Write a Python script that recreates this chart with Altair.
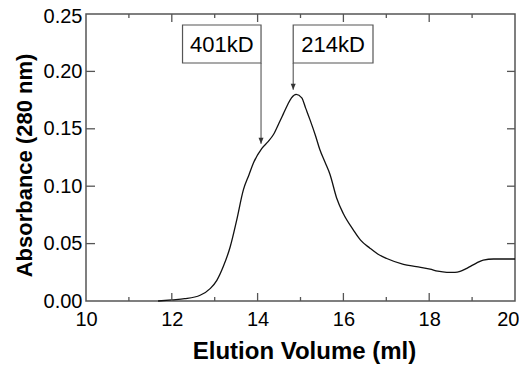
import altair as alt
import pandas as pd

# Chromatogram trace
volume = [11.68, 12.0, 12.3, 12.66, 12.9, 13.05, 13.2, 13.36, 13.51, 13.67, 13.8, 13.9,
          14.1, 14.25, 14.37, 14.5, 14.6, 14.7, 14.79, 14.9, 15.03, 15.12, 15.22, 15.35,
          15.45, 15.57, 15.69, 15.84, 16.0, 16.23, 16.4, 16.62, 16.8, 17.01, 17.4, 17.7,
          18.02, 18.2, 18.41, 18.6, 18.72, 18.85, 18.95, 19.1, 19.26, 19.5, 20.0]
absorbance = [0.000, 0.001, 0.002, 0.005, 0.011, 0.018, 0.030, 0.047, 0.070, 0.097, 0.110, 0.120,
              0.133, 0.139, 0.145, 0.155, 0.163, 0.171, 0.177, 0.180, 0.177, 0.168, 0.158, 0.144,
              0.132, 0.121, 0.110, 0.090, 0.076, 0.062, 0.053, 0.046, 0.041, 0.037, 0.032, 0.030,
              0.0278, 0.026, 0.025, 0.025, 0.0258, 0.028, 0.030, 0.033, 0.0357, 0.0366, 0.0366]

# Annotations
ann_labels = ["401kD", "214kD"]
ann_arrow_x = [14.08, 14.83]
ann_arrow_tip = [0.137, 0.184]
ann_box_x1 = [12.25, 14.83]
ann_box_x2 = [14.08, 16.69]
ann_box_top = [0.2404, 0.2404]
ann_box_bottom = [0.2073, 0.2073]

# Axis ticks
x_label_values = [10, 12, 14, 16, 18, 20]
x_major_ticks = [12, 14, 16, 18]
x_minor_ticks = [11, 13, 15, 17, 19]
y_label_values = [0.0, 0.05, 0.10, 0.15, 0.20, 0.25]
y_major_ticks = [0.05, 0.10, 0.15, 0.20]

W, H = 429, 287
FONT = "Liberation Sans"
GRAY = "#555555"

curve = pd.DataFrame({"v": volume, "a": absorbance})
ann = pd.DataFrame({
    "label": ann_labels, "ax": ann_arrow_x, "tip": ann_arrow_tip,
    "x1": ann_box_x1, "x2": ann_box_x2, "top": ann_box_top, "bottom": ann_box_bottom,
})
ann["cx"] = (ann["x1"] + ann["x2"]) / 2
ann["cy"] = (ann["top"] + ann["bottom"]) / 2

xs = alt.Scale(domain=[10, 20], nice=False, zero=False)
ys = alt.Scale(domain=[0, 0.25], nice=False)

x_axis = alt.Axis(values=x_label_values, format="d", ticks=False, tickSize=0, domain=False,
                  grid=False, labelFontSize=20, labelPadding=8, labelFont=FONT, labelColor="black",
                  labelFlush=False,
                  labelAlign={"condition": {"test": "datum.value == 20", "value": "right"}, "value": "center"},
                  labelOffset={"condition": {"test": "datum.value == 20", "value": 4}, "value": 0},
                  title="Elution Volume (ml)", titleFont=FONT, titleFontSize=24, titleFontWeight="bold",
                  titleColor="black", titleX=218, titleY=57, titleBaseline="alphabetic", titleAlign="center")
y_axis = alt.Axis(values=y_label_values, format=".2f", ticks=False, tickSize=0, domain=False,
                  grid=False, labelFontSize=20, labelPadding=4, labelFont=FONT, labelColor="black",
                  labelFlush=False,
                  labelOffset={"condition": {"test": "datum.value >= 0.249", "value": 2}, "value": 0},
                  title="Absorbance (280 nm)", titleFont=FONT, titleFontSize=22, titleFontWeight="bold",
                  titleColor="black", titleX=-55, titleY=151, titleAngle=-90,
                  titleBaseline="alphabetic", titleAlign="center")

line = alt.Chart(curve).mark_line(color="#111111", strokeWidth=1.3, interpolate="monotone").encode(
    x=alt.X("v:Q", scale=xs, axis=x_axis),
    y=alt.Y("a:Q", scale=ys, axis=y_axis),
)

xmaj = pd.DataFrame({"v": x_major_ticks})
xmin = pd.DataFrame({"v": x_minor_ticks})
ymaj = pd.DataFrame({"a": y_major_ticks})

def xticks(df, y0, y1):
    return alt.Chart(df).mark_rule(color=GRAY, strokeWidth=1.3).encode(
        x=alt.X("v:Q", scale=xs), y=alt.value(y0), y2=alt.value(y1))

def yticks(df, x0, x1):
    return alt.Chart(df).mark_rule(color=GRAY, strokeWidth=1.3).encode(
        y=alt.Y("a:Q", scale=ys), x=alt.value(x0), x2=alt.value(x1))

ticks = [
    xticks(xmaj, H, H - 8), xticks(xmin, H, H - 4),
    xticks(xmaj, 0, 8), xticks(xmin, 0, 4),
    yticks(ymaj, 0, 9), yticks(ymaj, W, W - 8),
]

boxes = alt.Chart(ann).mark_rect(fill="white", stroke=GRAY, strokeWidth=1.2).encode(
    x=alt.X("x1:Q", scale=xs), x2="x2:Q",
    y=alt.Y("top:Q", scale=ys), y2="bottom:Q",
)
texts = alt.Chart(ann).mark_text(font=FONT, fontSize=22, color="black", baseline="middle", dy=1).encode(
    x=alt.X("cx:Q", scale=xs), y=alt.Y("cy:Q", scale=ys), text="label:N",
)
arrows = alt.Chart(ann).mark_rule(color=GRAY, strokeWidth=1.1).encode(
    x=alt.X("ax:Q", scale=xs), y=alt.Y("bottom:Q", scale=ys), y2="tip:Q",
)
heads = alt.Chart(ann).mark_point(shape="M-1,-2.4L1,-2.4L0,0Z", size=25, filled=True,
                                  color="#333333", opacity=1).encode(
    x=alt.X("ax:Q", scale=xs), y=alt.Y("tip:Q", scale=ys),
)

chart = alt.layer(line, *ticks, arrows, heads, boxes, texts).properties(
    width=W, height=H,
    autosize=alt.AutoSizeParams(type="none"),
    padding={"left": 78, "top": 6, "right": 4, "bottom": 64},
).configure_view(stroke=GRAY, strokeWidth=1.5)

chart.save("out.html", embed_options={"renderer": "svg", "actions": False})
